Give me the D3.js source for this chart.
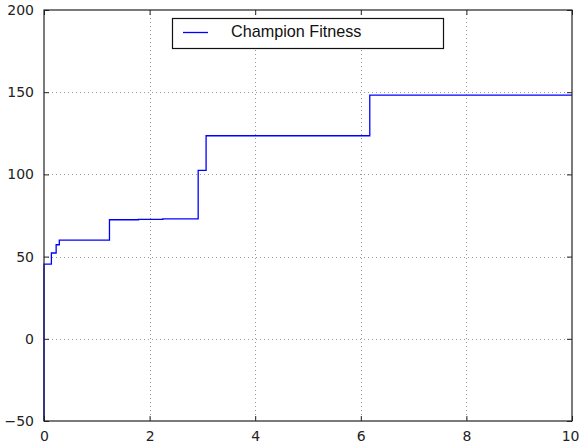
<!DOCTYPE html>
<html>
<head>
<meta charset="utf-8">
<script src="https://cdn.jsdelivr.net/npm/d3@7"></script>
<style>
  html, body { margin: 0; padding: 0; background: #fff; }
  svg { display: block; }
</style>
</head>
<body>
<svg id="chart" width="579" height="443"></svg>
<script>
// Champion fitness over time (step series)
const times   = [0, 0, 0.14, 0.23, 0.29, 1.24, 1.79, 2.25, 2.92, 3.07, 6.17, 10];
const fitness = [-50, 45.4, 52.2, 57.2, 60.0, 72.4, 72.6, 73.0, 102.4, 123.5, 148.2, 148.2];

const xTicks = [0, 2, 4, 6, 8, 10];
const yTicks = [-50, 0, 50, 100, 150, 200];
const seriesName = "Champion Fitness";

const svg = d3.select("#chart");
const plotLeft = 44, plotRight = 572, plotTop = 10, plotBottom = 421;

const x = d3.scaleLinear().domain([0, 10]).range([plotLeft, plotRight]);
const y = d3.scaleLinear().domain([-50, 200]).range([plotBottom, plotTop]);

const fmt = v => (v < 0 ? "\u2212" + Math.abs(v) : String(v));
const tickFont = "DejaVu Sans, sans-serif";

// dotted grid
const grid = svg.append("g").attr("stroke", "#999").attr("stroke-width", 1)
  .attr("stroke-dasharray", "1,3").attr("shape-rendering", "crispEdges");
grid.selectAll("line.gx").data(xTicks.filter(t => t > 0 && t < 10)).join("line")
  .attr("x1", d => Math.round(x(d)) + 0.5).attr("x2", d => Math.round(x(d)) + 0.5)
  .attr("y1", plotTop).attr("y2", plotBottom);
grid.selectAll("line.gy").data(yTicks.filter(t => t > -50 && t < 200)).join("line")
  .attr("y1", d => Math.round(y(d)) + 0.5).attr("y2", d => Math.round(y(d)) + 0.5)
  .attr("x1", plotLeft).attr("x2", plotRight);

// series
const line = d3.line()
  .x((d, i) => x(times[i]))
  .y(d => y(d))
  .curve(d3.curveStepAfter);
svg.append("path")
  .attr("d", line(fitness))
  .attr("fill", "none")
  .attr("stroke", "#0000ff")
  .attr("stroke-width", 1.3);

// axes with inward ticks, mirrored on all four sides
const axB = d3.axisBottom(x).tickValues(xTicks).tickSizeInner(-5).tickSizeOuter(0).tickPadding(10).tickFormat(fmt);
const axT = d3.axisTop(x).tickValues(xTicks).tickSizeInner(-5).tickSizeOuter(0).tickFormat("");
const axL = d3.axisLeft(y).tickValues(yTicks).tickSizeInner(-5).tickSizeOuter(0).tickPadding(10).tickFormat(fmt);
const axR = d3.axisRight(y).tickValues(yTicks).tickSizeInner(-5).tickSizeOuter(0).tickFormat("");

function style(g) {
  g.select(".domain").remove();
  g.selectAll(".tick line").attr("stroke", "#222");
  g.selectAll("text").attr("font-family", tickFont).attr("font-size", 14).attr("fill", "#222");
}
svg.append("g").attr("transform", `translate(0,${plotBottom})`).call(axB).call(style)
  // keep the last x label inside the window edge
  .selectAll(".tick text").filter(d => d === 10).attr("text-anchor", "end").attr("dx", 7);
svg.append("g").attr("transform", `translate(0,${plotTop})`).call(axT).call(style);
svg.append("g").attr("transform", `translate(${plotLeft},0)`).call(axL).call(style);
svg.append("g").attr("transform", `translate(${plotRight},0)`).call(axR).call(style);

// frame
svg.append("rect")
  .attr("x", plotLeft).attr("y", plotTop)
  .attr("width", plotRight - plotLeft).attr("height", plotBottom - plotTop)
  .attr("fill", "none").attr("stroke", "#222").attr("stroke-width", 1.2);

// legend
const lg = svg.append("g");
lg.append("rect")
  .attr("x", 172.5).attr("y", 18.5).attr("width", 271).attr("height", 30)
  .attr("fill", "#fff").attr("stroke", "#111").attr("stroke-width", 1.2);
lg.append("line")
  .attr("x1", 183).attr("x2", 208).attr("y1", 32.5).attr("y2", 32.5)
  .attr("stroke", "#0000ff").attr("stroke-width", 1.3);
lg.append("text")
  .attr("x", 231).attr("y", 37)
  .attr("font-family", "Liberation Sans, Arial, sans-serif")
  .attr("font-size", 16.2).attr("fill", "#111")
  .text(seriesName);
</script>
</body>
</html>
